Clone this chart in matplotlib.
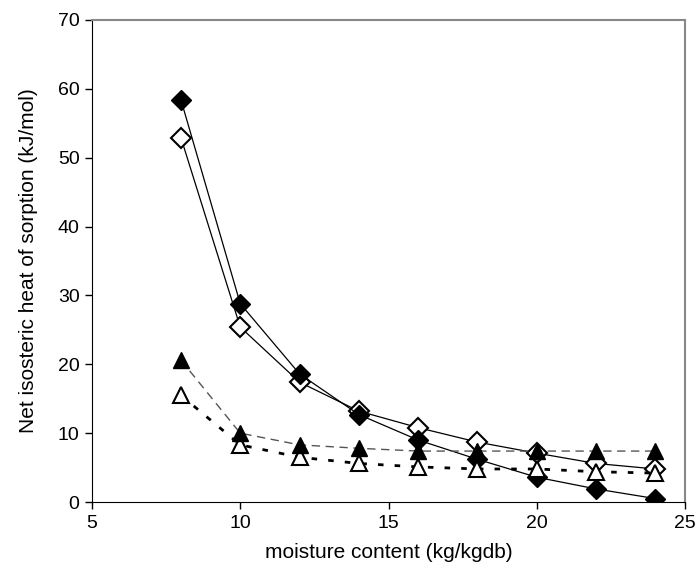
import matplotlib
matplotlib.use("Agg")
import matplotlib.pyplot as plt

plt.rcParams['font.family'] = ['Liberation Sans', 'DejaVu Sans']

# moisture content (kg/kgdb)
x = [8, 10, 12, 14, 16, 18, 20, 22, 24]

# net isosteric heat of sorption (kJ/mol)
diamond_filled = [58.4, 28.8, 18.6, 12.7, 9.0, 6.2, 3.6, 1.9, 0.5]
diamond_open = [52.9, 25.4, 17.4, 13.2, 10.8, 8.7, 7.1, 5.6, 4.8]
triangle_filled = [20.6, 10.0, 8.3, 7.8, 7.4, 7.4, 7.4, 7.4, 7.4]
triangle_open = [15.5, 8.3, 6.5, 5.6, 5.1, 4.8, 4.8, 4.4, 4.2]

fig = plt.figure(figsize=(6.98, 5.71), dpi=100)
ax = fig.add_axes([0.1318, 0.1208, 0.8496, 0.8442])

ax.plot(x, diamond_open, color='black', lw=0.9,
        marker='D', ms=10, mfc='white', mec='black', mew=1.5, zorder=3)
ax.plot(x, diamond_filled, color='black', lw=0.9,
        marker='D', ms=10, mfc='black', mec='black', zorder=3)
ax.plot(x, triangle_open, color='black', lw=2, linestyle=(0, (2, 4)),
        marker='^', ms=12, mfc='white', mec='black', mew=1.5, zorder=4)
ax.plot(x, triangle_filled, color='#555555', lw=1, linestyle=(0, (6, 4)),
        marker='^', ms=12, mfc='black', mec='black', zorder=4)

ax.set_xlim(5, 25)
ax.set_ylim(0, 70)
ax.set_xticks([5, 10, 15, 20, 25])
ax.set_yticks(range(0, 71, 10))
ax.tick_params(direction='out', length=5, width=1, labelsize=14, pad=4)
ax.spines['top'].set_color('#888888')
ax.spines['right'].set_color('#888888')
ax.spines['top'].set_linewidth(1.5)
ax.spines['right'].set_linewidth(1.5)
ax.set_xlabel('moisture content (kg/kgdb)', fontsize=15, labelpad=8)
ax.set_ylabel('Net isosteric heat of sorption (kJ/mol)', fontsize=15, labelpad=14)

fig.savefig('out.png', dpi=100)
